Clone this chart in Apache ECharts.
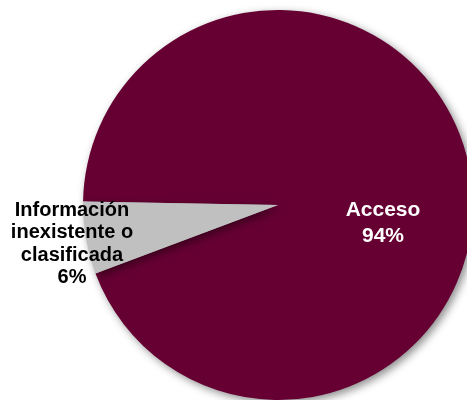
<!DOCTYPE html>
<html>
<head>
<meta charset="utf-8">
<script src="https://cdn.jsdelivr.net/npm/echarts@6/dist/echarts.min.js"></script>
<style>
  html, body { margin: 0; padding: 0; background: #ffffff; }
  #chart { width: 467px; height: 400px; }
</style>
</head>
<body>
<div id="chart"></div>
<script>
// Share of requests by type of response
const categories = ['Acceso', 'Información\ninexistente o\nclasificada'];
const shares = [94, 6];
const sliceColors = ['#660033', '#C0C0C0'];
const labelColors = ['#ffffff', '#000000'];
const labelSizes = [21, 20];
const labelLineHeights = [26, 22.5];
// label anchor points (px) for each slice
const labelAnchors = [[383, 223], [72, 244]];

const chart = echarts.init(document.getElementById('chart'), null, { renderer: 'canvas' });

const data = categories.map((name, i) => ({
  name: name,
  value: shares[i],
  itemStyle: { color: sliceColors[i] },
  label: {
    color: labelColors[i],
    fontSize: labelSizes[i],
    lineHeight: labelLineHeights[i]
  }
}));

chart.setOption({
  animation: false,
  backgroundColor: '#ffffff',
  series: [{
    type: 'pie',
    center: [278, 205],
    radius: [0, 195],
    startAngle: 179,
    clockwise: true,
    avoidLabelOverlap: false,
    data: data,
    itemStyle: {
      borderWidth: 0,
      shadowBlur: 8,
      shadowOffsetX: 3,
      shadowOffsetY: 3,
      shadowColor: 'rgba(0,0,0,0.45)'
    },
    label: {
      show: true,
      position: 'inside',
      formatter: p => p.name + '\n' + p.value + '%',
      fontFamily: '"Liberation Sans", Arial, sans-serif',
      fontWeight: 'bold',
      align: 'center'
    },
    labelLine: { show: false },
    labelLayout: function (params) {
      const a = labelAnchors[params.dataIndex];
      return { x: a[0], y: a[1], align: 'center', verticalAlign: 'middle' };
    },
    emphasis: { disabled: true }
  }]
});
</script>
</body>
</html>
